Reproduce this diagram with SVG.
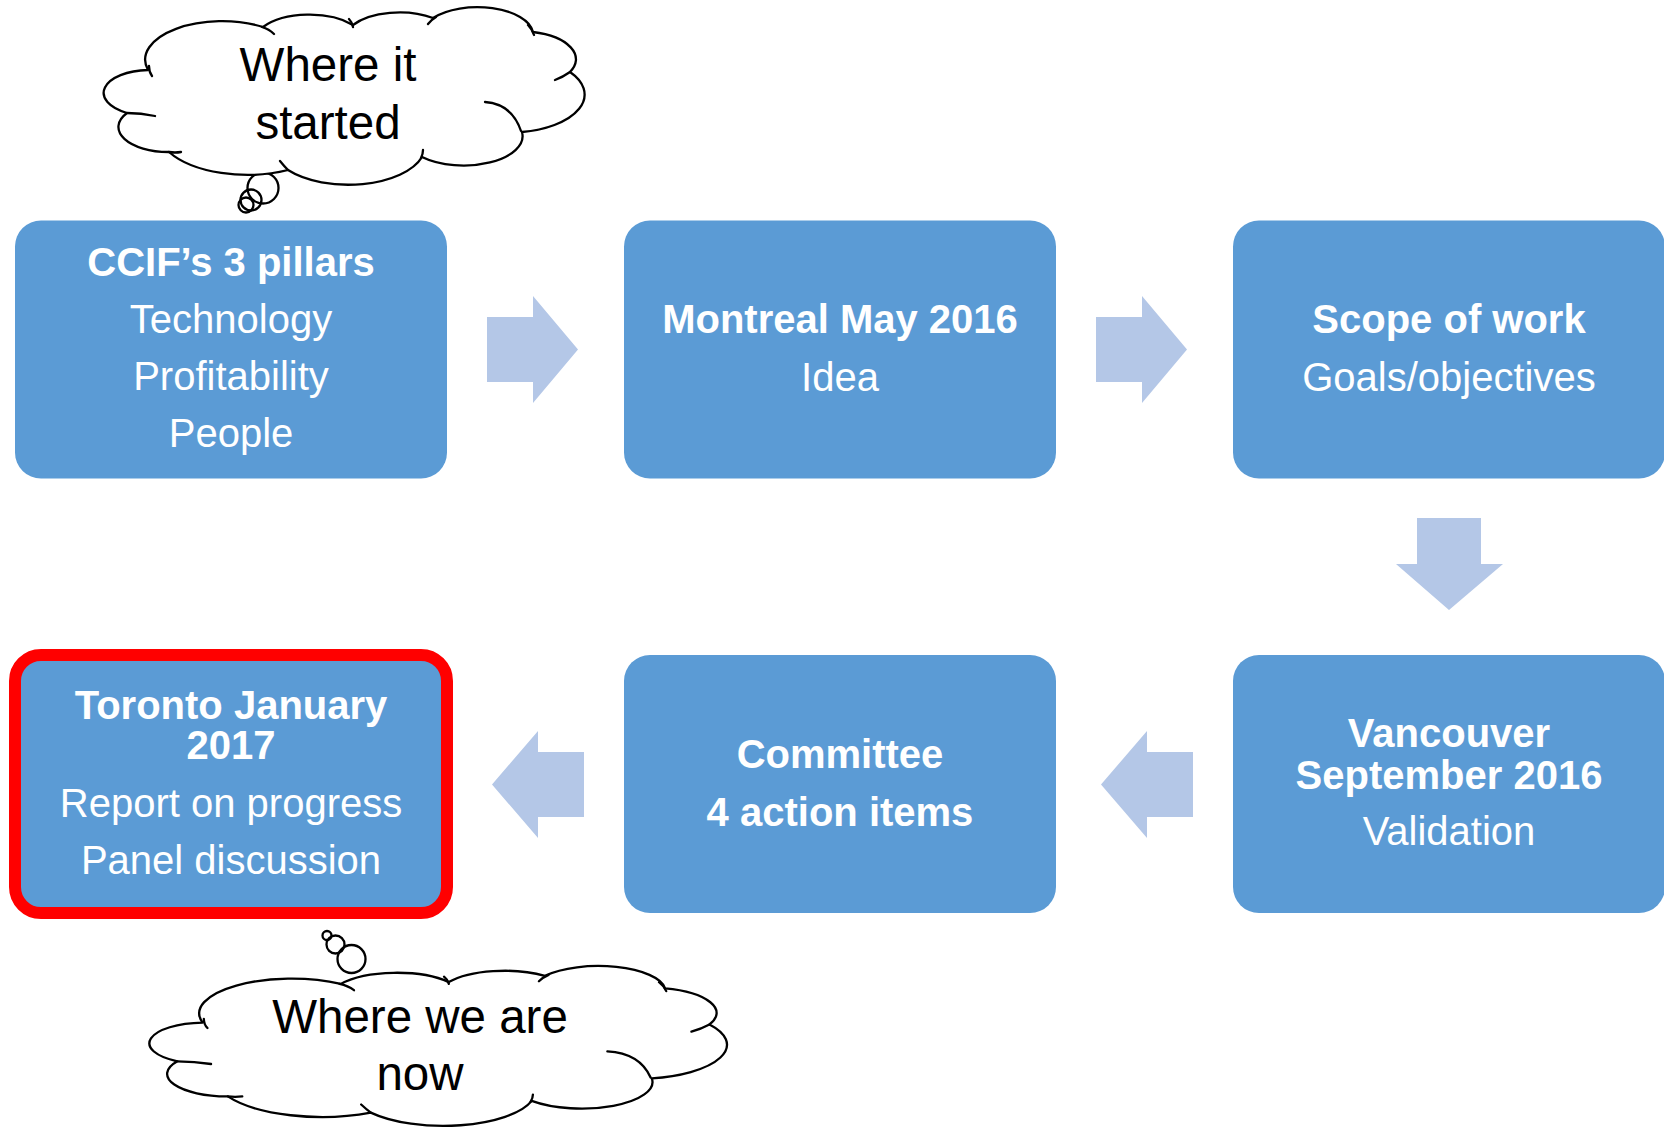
<svg xmlns="http://www.w3.org/2000/svg" xmlns:xlink="http://www.w3.org/1999/xlink" width="1664" height="1130" viewBox="0 0 1664 1130">
  <style>
    .box { fill: #5B9BD5; }
    .hl { fill: #5B9BD5; stroke: #FF0000; stroke-width: 12; }
    .arrow { fill: #B4C7E7; }
    .t { font-family: "Liberation Sans", Arial, sans-serif; font-size: 40px; fill: #FFFFFF; text-anchor: middle; }
    .b { font-weight: bold; }
    .ct { font-family: "Liberation Sans", Arial, sans-serif; font-size: 47.5px; fill: #000000; text-anchor: middle; }
    .cf { fill: #FFFFFF; stroke: #000000; stroke-width: 2.3; stroke-linejoin: round; vector-effect: non-scaling-stroke; }
    .cl { fill: none; stroke: #000000; stroke-width: 2.3; stroke-linecap: round; vector-effect: non-scaling-stroke; }
    .bub { fill: none; stroke: #000000; stroke-width: 2.3; }
  </style>
  <defs>
    <!-- thought cloud outline: eleven elliptical lobes plus the inner lobe seams -->
    <g id="cloud">
      <path class="cf" d="M148 70 A77 38.5 0 0 1 263 27 A56 28 0 0 1 353 25 A55 27 0 0 1 433 18 A56 28 0 0 1 533 32 A55 28 0 0 1 570 72 A75 38 0 0 1 522 132 A59 29.5 0 0 1 422 157 A77 39 0 0 1 288 170 A90 45 0 0 1 169 152 A50 25 0 0 1 127 113 A46 23 0 0 1 148 70 Z"/>
      <path class="cl" d="M152 76 Q149 72 149 66 M262 27 Q269 29 274 34 M349 19 Q352 22 353 27 M428 24 Q431 20 436 17 M528 25 Q532 29 534 35 M570 72 Q563 77 555 80 M485 102 Q512 104 521 131 M423 150 Q423 154 421 158 M288 170 Q284 166 280 161 M181 152 Q175 153 169 152 M127 113 Q141 113 155 116"/>
    </g>
  </defs>

  <!-- connectors -->
  <g id="connectors">
    <polygon class="arrow" points="487,317 533,317 533,296 578,349.5 533,403 533,382 487,382"/>
    <polygon class="arrow" points="1096,317 1142,317 1142,296 1187,349.5 1142,403 1142,382 1096,382"/>
    <polygon class="arrow" points="1417,518 1481,518 1481,564 1503,564 1449,610 1396,564 1417,564"/>
    <polygon class="arrow" points="1193,752 1147,752 1147,731 1101,784.5 1147,838 1147,817 1193,817"/>
    <polygon class="arrow" points="584,752 538,752 538,731 492,784.5 538,838 538,817 584,817"/>
  </g>

  <g id="node-pillars">
    <rect class="box" x="15" y="220.5" width="432" height="258" rx="26"/>
    <text class="t b" x="231" y="276">CCIF’s 3 pillars</text>
    <text class="t" x="231" y="333">Technology</text>
    <text class="t" x="231" y="390">Profitability</text>
    <text class="t" x="231" y="447">People</text>
  </g>

  <g id="node-montreal">
    <rect class="box" x="624" y="220.5" width="432" height="258" rx="26"/>
    <text class="t b" x="840" y="333">Montreal May 2016</text>
    <text class="t" x="840" y="391">Idea</text>
  </g>

  <g id="node-scope">
    <rect class="box" x="1233" y="220.5" width="432" height="258" rx="26"/>
    <text class="t b" x="1449" y="333">Scope of work</text>
    <text class="t" x="1449" y="391">Goals/objectives</text>
  </g>

  <g id="node-vancouver">
    <rect class="box" x="1233" y="655" width="432" height="258" rx="26"/>
    <text class="t b" x="1449" y="747">Vancouver</text>
    <text class="t b" x="1449" y="789">September 2016</text>
    <text class="t" x="1449" y="845">Validation</text>
  </g>

  <g id="node-committee">
    <rect class="box" x="624" y="655" width="432" height="258" rx="26"/>
    <text class="t b" x="840" y="768">Committee</text>
    <text class="t b" x="840" y="826">4 action items</text>
  </g>

  <g id="node-toronto">
    <rect class="hl" x="15" y="655" width="432" height="258" rx="26"/>
    <text class="t b" x="231" y="719">Toronto January</text>
    <text class="t b" x="231" y="759">2017</text>
    <text class="t" x="231" y="817">Report on progress</text>
    <text class="t" x="231" y="874">Panel discussion</text>
  </g>

  <g id="cloud-start">
    <circle class="bub" cx="263" cy="188" r="15.5"/>
    <circle class="bub" cx="251" cy="200" r="10.5"/>
    <circle class="bub" cx="246" cy="205" r="7.5"/>
    <use xlink:href="#cloud" href="#cloud"/>
    <text class="ct" x="328" y="81">Where it</text>
    <text class="ct" x="328" y="139">started</text>
  </g>

  <g id="cloud-now">
    <circle class="bub" cx="327" cy="935.5" r="4.5"/>
    <circle class="bub" cx="335.5" cy="944.5" r="9"/>
    <circle class="bub" cx="351.5" cy="959" r="14"/>
    <use xlink:href="#cloud" href="#cloud" transform="translate(151 965) scale(1.201 0.9) translate(-105 -6)"/>
    <text class="ct" x="420" y="1033">Where we are</text>
    <text class="ct" x="420" y="1090">now</text>
  </g>
</svg>
